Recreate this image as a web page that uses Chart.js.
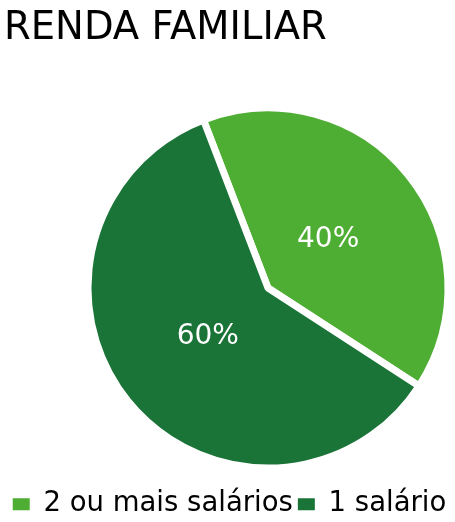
<!DOCTYPE html>
<html>
<head>
<meta charset="utf-8">
<script src="https://cdn.jsdelivr.net/npm/chart.js@4/dist/chart.umd.min.js"></script>
<style>
  html, body { margin: 0; padding: 0; background: #ffffff; overflow: hidden; }
  #wrap { position: relative; width: 455px; height: 528px; }
</style>
</head>
<body>
<div id="wrap"><canvas id="c"></canvas></div>
<script>
const titleText = "RENDA FAMILIAR";
const categories = ["2 ou mais salários", "1 salário"];
const values = [40, 60];
const colors = ["#4EAD33", "#1B7437"];

const FONT = "'DejaVu Sans', sans-serif";

const placeArea = {
  id: 'placeArea',
  afterLayout(chart) {
    const a = chart.chartArea;
    a.left = 88; a.right = 448; a.top = 108; a.bottom = 468;
    a.width = a.right - a.left; a.height = a.bottom - a.top;
  }
};

const sliceLabels = {
  id: 'sliceLabels',
  afterDatasetsDraw(chart) {
    const ctx = chart.ctx;
    const meta = chart.getDatasetMeta(0);
    ctx.save();
    ctx.fillStyle = '#ffffff';
    ctx.font = "28px " + FONT;
    ctx.textAlign = 'center';
    ctx.textBaseline = 'middle';
    meta.data.forEach((arc, i) => {
      const p = arc.getProps(['x', 'y', 'startAngle', 'endAngle', 'outerRadius'], true);
      const mid = (p.startAngle + p.endAngle) / 2;
      const r = p.outerRadius * 0.43;
      ctx.fillText(values[i] + '%', p.x + Math.cos(mid) * r, p.y + Math.sin(mid) * r);
    });
    ctx.restore();
  }
};

new Chart(document.getElementById('c'), {
  type: 'pie',
  data: {
    labels: categories,
    datasets: [{
      data: values,
      backgroundColor: colors,
      borderColor: '#ffffff',
      borderWidth: 7,
      hoverOffset: 0
    }]
  },
  options: {
    responsive: true,
    maintainAspectRatio: false,
    animation: false,
    events: [],
    rotation: -21,
    radius: 180,
    layout: { padding: { left: 4 } },
    plugins: {
      title: {
        display: true,
        text: titleText,
        align: 'start',
        color: '#000000',
        font: { family: FONT, size: 38.5, weight: 'normal' },
        padding: { top: 6, bottom: 4 }
      },
      legend: {
        display: true,
        position: 'bottom',
        labels: {
          color: '#000000',
          font: { family: FONT, size: 27.5 },
          boxWidth: 17,
          boxHeight: 12,
          padding: 5,
          generateLabels(chart) {
            const items = Chart.overrides.pie.plugins.legend.labels.generateLabels(chart);
            items.forEach(it => { it.lineWidth = 0; it.strokeStyle = it.fillStyle; });
            return items;
          }
        }
      },
      tooltip: { enabled: false }
    }
  },
  plugins: [placeArea, sliceLabels]
});
</script>
</body>
</html>
